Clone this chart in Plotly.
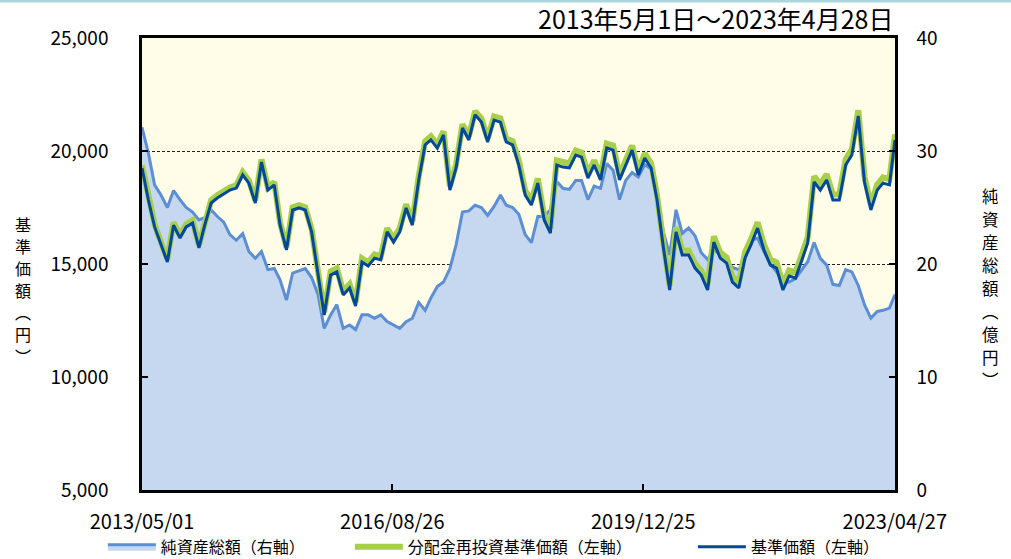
import plotly.graph_objects as go
import pandas as pd

# Monthly observation dates (first of each month) plus the final date
dates = list(pd.date_range("2013-05-01", periods=120, freq="MS").strftime("%Y-%m-%d")) + ["2023-04-28"]

# 基準価額 (yen, left axis)
nav = [19250, 17830, 16640, 15840, 15090, 16720, 16150, 16640, 16810, 15710,
       16720, 17700, 17920, 18100, 18270, 18360, 18940, 18580, 17700, 19510,
       18270, 18500, 16720, 15620, 17390, 17480, 17390, 16420, 14510, 12740,
       14510, 14650, 13630, 13940, 13140, 15090, 14910, 15260, 15180, 16420,
       15970, 16420, 17480, 16720, 18720, 20270, 20490, 20130, 20710, 18270,
       19250, 21020, 20490, 21600, 21280, 20400, 21370, 21280, 20400, 20270,
       19380, 18050, 17610, 18580, 16950, 16370, 19380, 19290, 19250, 19820,
       19730, 18800, 19380, 18720, 20130, 20040, 18720, 19380, 20040, 18940,
       19690, 19250, 17830, 15710, 13850, 16420, 15400, 15400, 14820, 14510,
       13850, 15970, 15260, 15040, 14200, 13940, 15260, 15890, 16590, 15620,
       14950, 14820, 13850, 14470, 14380, 15180, 15930, 18630, 18270, 18720,
       17830, 17830, 19380, 19820, 21550, 18630, 17390, 18270, 18580, 18500,
       20490]

# 分配金再投資基準価額 (yen, left axis)
nav_reinvested = [19370, 17950, 16760, 15960, 15210, 16840, 16270, 16760, 16930, 15830,
                  16840, 17820, 18040, 18220, 18390, 18480, 19060, 18700, 17820, 19630,
                  18390, 18620, 16840, 15740, 17510, 17600, 17510, 16540, 14630, 12860,
                  14670, 14810, 13790, 14100, 13300, 15250, 15070, 15420, 15340, 16580,
                  16130, 16580, 17640, 16880, 18880, 20430, 20650, 20290, 20870, 18430,
                  19410, 21180, 20650, 21760, 21440, 20560, 21530, 21440, 20560, 20430,
                  19580, 18250, 17810, 18780, 17150, 16570, 19580, 19490, 19450, 20020,
                  19930, 19000, 19580, 18920, 20330, 20240, 18920, 19580, 20240, 19140,
                  19890, 19450, 18030, 15910, 14050, 16620, 15600, 15600, 15020, 14710,
                  14100, 16220, 15510, 15290, 14450, 14190, 15510, 16140, 16840, 15870,
                  15200, 15070, 14100, 14720, 14630, 15430, 16180, 18880, 18520, 18970,
                  18080, 18080, 19630, 20070, 21800, 18880, 17640, 18520, 18830, 18750,
                  20740]

# 純資産総額 (億円, right axis)
net_assets = [32.1, 29.8, 27.0, 26.1, 25.0, 26.5, 25.7, 25.0, 24.6, 23.9,
              24.1, 24.8, 24.2, 23.7, 22.6, 22.1, 22.7, 21.1, 20.5, 21.1,
              19.5, 19.6, 18.6, 16.8, 19.2, 19.4, 19.6, 18.8, 17.3, 14.3,
              15.5, 16.4, 14.3, 14.6, 14.2, 15.5, 15.5, 15.2, 15.5, 14.9,
              14.6, 14.3, 14.9, 15.2, 16.6, 15.9, 17.0, 18.0, 18.4, 19.6,
              21.7, 24.6, 24.7, 25.2, 25.0, 24.3, 25.1, 26.1, 25.2, 25.0,
              24.4, 22.6, 21.9, 24.2, 24.2, 24.8, 27.3, 26.7, 26.6, 27.4,
              27.4, 25.7, 26.9, 26.7, 28.9, 28.3, 25.7, 27.4, 28.1, 27.7,
              28.8, 28.4, 26.3, 22.8, 20.8, 24.8, 22.7, 23.2, 22.5, 21.0,
              20.4, 21.3, 20.8, 20.2, 19.7, 19.5, 20.5, 22.1, 22.3, 21.1,
              20.0, 19.3, 18.4, 18.4, 18.7, 19.5, 20.2, 21.9, 20.5, 19.9,
              18.2, 18.1, 19.5, 19.3, 18.1, 16.4, 15.2, 15.8, 15.9, 16.1,
              17.3]

tick_dates = ["2013-05-01", "2016-08-26", "2019-12-25", "2023-04-27"]
tick_labels = ["2013/05/01", "2016/08/26", "2019/12/25", "2023/04/27"]

left_title = list("基準価額︵円︶")
right_title = list("純資産総額︵億円︶")

FONT = "Noto Sans CJK JP"
PW, PH = 753, 452  # plot area size in px

fig = go.Figure()
fig.add_trace(go.Scatter(
    x=dates, y=net_assets, name="純資産総額（右軸）\u3000\u3000\u3000", mode="lines",
    line=dict(color="#5B8ED5", width=3), fill="tozeroy", fillcolor="#C6D8F0",
    yaxis="y"))
fig.add_trace(go.Scatter(
    x=dates, y=nav_reinvested, name="分配金再投資基準価額（左軸）\u3000\u3000\u3000\u3000", mode="lines",
    line=dict(color="#A8CF4A", width=6), yaxis="y2"))
fig.add_trace(go.Scatter(
    x=dates, y=nav, name="基準価額（左軸）", mode="lines",
    line=dict(color="#03489B", width=3), yaxis="y2"))

annotations = [
    dict(text="2013年5月1日～2023年4月28日", xref="paper", yref="paper",
         x=1.0, y=1 + 20 / PH, xanchor="right", yanchor="middle",
         showarrow=False, font=dict(size=25, family=FONT)),
]
for i, ch in enumerate(left_title):
    annotations.append(dict(text=ch, xref="paper", yref="paper",
                            x=(23 - 142) / PW, y=(490 - (224 + 22 * i)) / PH,
                            xanchor="center", yanchor="middle", showarrow=False,
                            font=dict(size=16, family=FONT)))
for i, ch in enumerate(right_title):
    annotations.append(dict(text=ch, xref="paper", yref="paper",
                            x=(990 - 142) / PW, y=(490 - (196 + 23 * i)) / PH,
                            xanchor="center", yanchor="middle", showarrow=False,
                            font=dict(size=16.5, family=FONT)))

fig.update_layout(
    width=1011, height=559,
    margin=dict(l=142, r=116, t=38, b=69, autoexpand=False),
    paper_bgcolor="white", plot_bgcolor="#FFFDE8",
    font=dict(family=FONT, color="black", size=18),
    showlegend=True,
    legend=dict(orientation="h", x=-0.052, xanchor="left", y=-0.126, yanchor="middle",
                font=dict(size=16, family=FONT), bgcolor="rgba(0,0,0,0)", itemwidth=48),
    xaxis=dict(type="date", range=["2013-05-01", "2023-04-28"],
               tickvals=tick_dates, ticktext=tick_labels,
               ticks="inside", ticklen=6, tickwidth=1.5, tickcolor="black",
               showline=True, linecolor="black", linewidth=2.5, mirror=True,
               showgrid=False, zeroline=False, tickfont=dict(size=20),
               ticklabelstandoff=12),
    yaxis=dict(side="right", range=[0, 40], tickvals=[0, 10, 20, 30, 40],
               ticks="inside", ticklen=6, tickwidth=1.5, tickcolor="black",
               showline=True, linecolor="black", linewidth=2.5,
               showgrid=True, gridcolor="#222", gridwidth=1, griddash="3px,2px",
               zeroline=False, tickfont=dict(size=19), ticklabelstandoff=15),
    yaxis2=dict(side="left", overlaying="y", range=[5000, 25000],
                tickvals=[5000, 10000, 15000, 20000, 25000], tickformat=",",
                ticks="inside", ticklen=6, tickwidth=1.5, tickcolor="black",
                showline=True, linecolor="black", linewidth=2.5,
                showgrid=False, zeroline=False, tickfont=dict(size=19),
                ticklabelstandoff=27),
    shapes=[dict(type="line", xref="paper", yref="paper",
                 x0=-142 / PW, x1=1 + 116 / PW, y0=1 + 37 / PH, y1=1 + 37 / PH,
                 line=dict(color="#ABD6DA", width=3))],
    annotations=annotations,
)

fig.write_html("out.html", config={"displayModeBar": False},
               post_script="document.body.style.margin='0px';")
